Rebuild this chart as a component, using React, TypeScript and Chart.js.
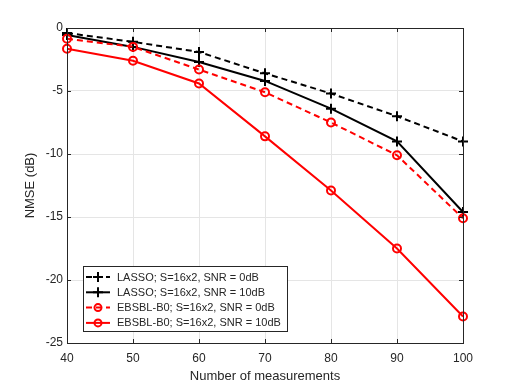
import React, { useEffect, useRef } from "react";
import { Chart, registerables } from "chart.js";
Chart.register(...registerables);

const measurements = [40, 50, 60, 70, 80, 90, 100];
const lasso0 = [-0.4, -1.1, -1.9, -3.6, -5.2, -7.0, -9.0];
const lasso10 = [-0.55, -1.5, -2.7, -4.2, -6.4, -9.0, -14.6];
const ebsbl0 = [-0.85, -1.5, -3.3, -5.1, -7.5, -10.1, -15.1];
const ebsbl10 = [-1.65, -2.6, -4.4, -8.6, -12.9, -17.5, -22.9];
const seriesLabels = [
  "LASSO; S=16x2, SNR = 0dB",
  "LASSO; S=16x2, SNR = 10dB",
  "EBSBL-B0; S=16x2, SNR = 0dB",
  "EBSBL-B0; S=16x2, SNR = 10dB",
];
const xTitle = "Number of measurements";
const yTitle = "NMSE (dB)";

const FONT = "'Liberation Sans', Arial, Helvetica, sans-serif";
const AXIS = "#262626";

function toXY(ys: number[]) {
  return ys.map((y, i) => ({ x: measurements[i], y }));
}

function drawMarker(ctx: CanvasRenderingContext2D, style: string, x: number, y: number, r: number) {
  ctx.beginPath();
  if (style === "cross") {
    ctx.moveTo(x - r, y);
    ctx.lineTo(x + r, y);
    ctx.moveTo(x, y - r);
    ctx.lineTo(x, y + r);
  } else {
    ctx.arc(x, y, r, 0, Math.PI * 2);
  }
  ctx.stroke();
}

const boxPlugin = {
  id: "matlabBox",
  afterDatasetsDraw(chart: any) {
    const { ctx, chartArea } = chart;
    const { left, right, top, bottom } = chartArea;
    ctx.save();
    ctx.strokeStyle = AXIS;
    ctx.lineWidth = 1;
    ctx.setLineDash([]);
    ctx.strokeRect(Math.round(left) + 0.5, Math.round(top) + 0.5, Math.round(right - left), Math.round(bottom - top));
    const tl = 4;
    const xs = chart.scales.x;
    const ys = chart.scales.y;
    ctx.beginPath();
    xs.ticks.forEach((t: any) => {
      const px = Math.round(xs.getPixelForValue(t.value)) + 0.5;
      ctx.moveTo(px, bottom);
      ctx.lineTo(px, bottom - tl);
      ctx.moveTo(px, top);
      ctx.lineTo(px, top + tl);
    });
    ys.ticks.forEach((t: any) => {
      const py = Math.round(ys.getPixelForValue(t.value)) + 0.5;
      ctx.moveTo(left, py);
      ctx.lineTo(left + tl, py);
      ctx.moveTo(right, py);
      ctx.lineTo(right - tl, py);
    });
    ctx.stroke();
    ctx.restore();
  },
};

const legendPlugin = {
  id: "insideLegend",
  afterDraw(chart: any) {
    const { ctx } = chart;
    const x0 = 83, y0 = 266, w = 204, h = 65;
    ctx.save();
    ctx.fillStyle = "#ffffff";
    ctx.fillRect(x0, y0, w, h);
    ctx.strokeStyle = AXIS;
    ctx.lineWidth = 1;
    ctx.setLineDash([]);
    ctx.strokeRect(x0 + 0.5, y0 + 0.5, w, h);
    ctx.font = `11px ${FONT}`;
    ctx.textBaseline = "middle";
    ctx.textAlign = "left";
    chart.data.datasets.forEach((ds: any, i: number) => {
      const y = y0 + 11 + i * 15.3;
      ctx.strokeStyle = ds.borderColor;
      ctx.lineWidth = 2;
      ctx.setLineDash(ds.borderDash || []);
      ctx.beginPath();
      ctx.moveTo(86, y);
      ctx.lineTo(110, y);
      ctx.stroke();
      ctx.setLineDash([]);
      drawMarker(ctx, ds.pointStyle, 98, y, ds.pointStyle === "cross" ? 5 : 3.5);
      ctx.fillStyle = "#262626";
      ctx.fillText(ds.label, 117, y + 0.5);
    });
    ctx.restore();
  },
};

export default function App() {
  const ref = useRef<HTMLCanvasElement>(null);
  useEffect(() => {
    if (!ref.current) return;
    const common = { borderWidth: 2, pointBorderWidth: 2, clip: false as any, fill: false, tension: 0 };
    const chart = new Chart(ref.current, {
      type: "line",
      data: {
        datasets: [
          { ...common, label: seriesLabels[0], data: toXY(lasso0), borderColor: "#000000", backgroundColor: "#000000", borderDash: [6, 4], pointStyle: "cross", pointRadius: 5, order: 3 },
          { ...common, label: seriesLabels[1], data: toXY(lasso10), borderColor: "#000000", backgroundColor: "#000000", pointStyle: "cross", pointRadius: 5, order: 2 },
          { ...common, label: seriesLabels[2], data: toXY(ebsbl0), borderColor: "#ff0000", backgroundColor: "rgba(0,0,0,0)", borderDash: [6, 4], pointStyle: "circle", pointRadius: 4, order: 1 },
          { ...common, label: seriesLabels[3], data: toXY(ebsbl10), borderColor: "#ff0000", backgroundColor: "rgba(0,0,0,0)", pointStyle: "circle", pointRadius: 4, order: 0 },
        ] as any,
      },
      options: {
        animation: false,
        responsive: false,
        devicePixelRatio: 1,
        layout: { padding: { left: 14, top: 28, right: 49, bottom: 0 } },
        plugins: { legend: { display: false }, tooltip: { enabled: false } },
        scales: {
          x: {
            type: "linear",
            min: 40,
            max: 100,
            afterFit: (s: any) => { s.height = 41; },
            ticks: { stepSize: 10, color: AXIS, font: { family: FONT, size: 12 }, padding: 8, maxRotation: 0 },
            grid: { color: "#e5e5e5", drawTicks: false },
            border: { display: false },
            title: { display: true, text: xTitle, color: AXIS, font: { family: FONT, size: 13 }, padding: { top: 4, bottom: 0 } },
          },
          y: {
            type: "linear",
            min: -25,
            max: 0,
            afterFit: (s: any) => { s.width = 53; },
            ticks: { stepSize: 5, color: AXIS, font: { family: FONT, size: 12 }, padding: 4 },
            grid: { color: "#e5e5e5", drawTicks: false },
            border: { display: false },
            title: { display: true, text: yTitle, color: AXIS, font: { family: FONT, size: 13 }, padding: { top: 9, bottom: 0 } },
          },
        },
      } as any,
      plugins: [boxPlugin, legendPlugin],
    });
    return () => chart.destroy();
  }, []);
  return (
    <div style={{ position: "fixed", left: 0, top: 0, width: 512, height: 384, background: "#fff" }}>
      <canvas ref={ref} width={512} height={384} style={{ display: "block" }} />
    </div>
  );
}
